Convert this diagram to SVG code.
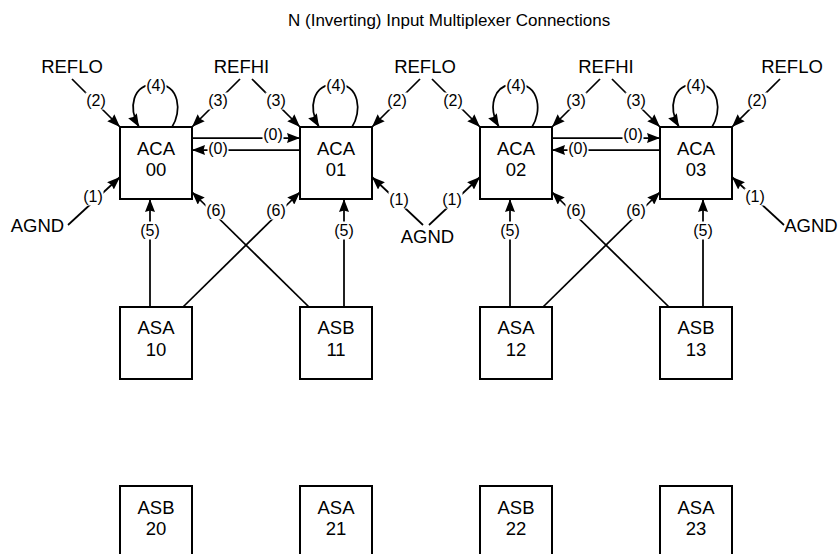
<svg xmlns="http://www.w3.org/2000/svg" width="840" height="554" viewBox="0 0 840 554">
<style>
.box{fill:#fff;stroke:#000;stroke-width:2}
.ln{fill:none;stroke:#000;stroke-width:1.75}
.arr{marker-end:url(#ah)}
text{font-family:"Liberation Sans",Arial,sans-serif;fill:#000}
.t{font-size:18.5px;text-anchor:middle}
.lb{font-size:16px;text-anchor:middle}
.bg{fill:#fff}
.title{font-size:17px}
</style>
<defs>
<marker id="ah" viewBox="0 0 13 10" refX="13" refY="5" markerWidth="13" markerHeight="10" markerUnits="userSpaceOnUse" orient="auto">
<path d="M0,0 L13,5 L0,10 L1.5,5 Z" fill="#000"/>
</marker>
</defs>
<rect width="840" height="554" fill="#fff"/>
<text class="title" x="288" y="26">N (Inverting) Input Multiplexer Connections</text>

<g id="connectors">
<!-- ACA00 -->
<line class="ln arr" x1="72" y1="79" x2="120" y2="127"/>
<line class="ln arr" x1="240" y1="79" x2="192" y2="127"/>
<path class="ln arr" d="M172,127 C182,112 180,84 156,84 C132,84 128,108 139,127"/>
<line class="ln arr" x1="192" y1="138" x2="300" y2="138"/>
<line class="ln arr" x1="300" y1="150" x2="192" y2="150"/>
<line class="ln arr" x1="68" y1="225" x2="120" y2="177"/>
<line class="ln arr" x1="150" y1="307" x2="150" y2="199"/>
<line class="ln arr" x1="309" y1="307" x2="192" y2="192"/>
<!-- ACA01 -->
<path class="ln arr" d="M352,127 C362,112 360,84 336,84 C312,84 308,108 319,127"/>
<line class="ln arr" x1="252" y1="79" x2="300" y2="127"/>
<line class="ln arr" x1="420" y1="79" x2="372" y2="127"/>
<line class="ln arr" x1="423" y1="225" x2="372" y2="177"/>
<line class="ln arr" x1="344" y1="307" x2="344" y2="199"/>
<line class="ln arr" x1="183" y1="307" x2="300" y2="192"/>
<!-- ACA02 -->
<path class="ln arr" d="M532,127 C542,112 540,84 516,84 C492,84 488,108 499,127"/>
<line class="ln arr" x1="432" y1="79" x2="480" y2="127"/>
<line class="ln arr" x1="600" y1="79" x2="552" y2="127"/>
<line class="ln arr" x1="429" y1="225" x2="480" y2="177"/>
<line class="ln arr" x1="552" y1="138" x2="660" y2="138"/>
<line class="ln arr" x1="660" y1="150" x2="552" y2="150"/>
<line class="ln arr" x1="510" y1="307" x2="510" y2="199"/>
<line class="ln arr" x1="669" y1="307" x2="552" y2="192"/>
<!-- ACA03 -->
<path class="ln arr" d="M712,127 C722,112 720,84 696,84 C672,84 668,108 679,127"/>
<line class="ln arr" x1="612" y1="79" x2="660" y2="127"/>
<line class="ln arr" x1="780" y1="79" x2="732" y2="127"/>
<line class="ln arr" x1="784" y1="225" x2="732" y2="177"/>
<line class="ln arr" x1="703" y1="307" x2="703" y2="199"/>
<line class="ln arr" x1="543" y1="307" x2="660" y2="192"/>

<!-- labels -->
<g>
<rect class="bg" x="85.5" y="92.5" width="21" height="17"/><text class="lb" x="96" y="105.5">(2)</text>
<rect class="bg" x="207.5" y="92.5" width="21" height="17"/><text class="lb" x="218" y="105.5">(3)</text>
<rect class="bg" x="145.5" y="77.5" width="21" height="17"/><text class="lb" x="156" y="90.5">(4)</text>
<rect class="bg" x="262.5" y="126.5" width="21" height="17"/><text class="lb" x="273" y="139.5">(0)</text>
<rect class="bg" x="207.5" y="141" width="21" height="16"/><text class="lb" x="218" y="153.5">(0)</text>
<rect class="bg" x="82.5" y="188.5" width="21" height="17"/><text class="lb" x="93" y="201.5">(1)</text>
<rect class="bg" x="139.5" y="221.5" width="21" height="18"/><text class="lb" x="150" y="235.5">(5)</text>
<rect class="bg" x="205.5" y="202.5" width="21" height="17"/><text class="lb" x="216" y="215.5">(6)</text>

<rect class="bg" x="325.5" y="77.5" width="21" height="17"/><text class="lb" x="336" y="90.5">(4)</text>
<rect class="bg" x="265.5" y="92.5" width="21" height="17"/><text class="lb" x="276" y="105.5">(3)</text>
<rect class="bg" x="386.5" y="92.5" width="21" height="17"/><text class="lb" x="397" y="105.5">(2)</text>
<rect class="bg" x="388.5" y="191.5" width="21" height="17"/><text class="lb" x="399" y="204.5">(1)</text>
<rect class="bg" x="333.5" y="221.5" width="21" height="18"/><text class="lb" x="344" y="235.5">(5)</text>
<rect class="bg" x="265.5" y="202.5" width="21" height="17"/><text class="lb" x="276" y="215.5">(6)</text>

<rect class="bg" x="505.5" y="77.5" width="21" height="17"/><text class="lb" x="516" y="90.5">(4)</text>
<rect class="bg" x="442.5" y="92.5" width="21" height="17"/><text class="lb" x="453" y="105.5">(2)</text>
<rect class="bg" x="565.5" y="92.5" width="21" height="17"/><text class="lb" x="576" y="105.5">(3)</text>
<rect class="bg" x="441.5" y="191.5" width="21" height="17"/><text class="lb" x="452" y="204.5">(1)</text>
<rect class="bg" x="622.5" y="126.5" width="21" height="17"/><text class="lb" x="633" y="139.5">(0)</text>
<rect class="bg" x="567.5" y="141" width="21" height="16"/><text class="lb" x="578" y="153.5">(0)</text>
<rect class="bg" x="499.5" y="221.5" width="21" height="18"/><text class="lb" x="510" y="235.5">(5)</text>
<rect class="bg" x="565.5" y="202.5" width="21" height="17"/><text class="lb" x="576" y="215.5">(6)</text>

<rect class="bg" x="685.5" y="77.5" width="21" height="17"/><text class="lb" x="696" y="90.5">(4)</text>
<rect class="bg" x="625.5" y="92.5" width="21" height="17"/><text class="lb" x="636" y="105.5">(3)</text>
<rect class="bg" x="746.5" y="92.5" width="21" height="17"/><text class="lb" x="757" y="105.5">(2)</text>
<rect class="bg" x="744.5" y="188.5" width="21" height="17"/><text class="lb" x="755" y="201.5">(1)</text>
<rect class="bg" x="692.5" y="221.5" width="21" height="18"/><text class="lb" x="703" y="235.5">(5)</text>
<rect class="bg" x="625.5" y="202.5" width="21" height="17"/><text class="lb" x="636" y="215.5">(6)</text>
</g>
</g>

<g id="REFLO_1"><text class="t" x="72" y="72.5">REFLO</text></g>
<g id="REFHI_1"><text class="t" x="241.5" y="72.5">REFHI</text></g>
<g id="REFLO_2"><text class="t" x="425" y="72.5">REFLO</text></g>
<g id="REFHI_2"><text class="t" x="606" y="72.5">REFHI</text></g>
<g id="REFLO_3"><text class="t" x="792" y="72.5">REFLO</text></g>
<g id="AGND_1"><text class="t" x="37.5" y="231.5">AGND</text></g>
<g id="AGND_2"><text class="t" x="427.5" y="243">AGND</text></g>
<g id="AGND_3"><text class="t" x="811" y="231.5">AGND</text></g>

<g id="ACA00"><rect class="box" x="120" y="127" width="72" height="72"/><text class="t" x="156" y="155">ACA</text><text class="t" x="156" y="176">00</text></g>
<g id="ACA01"><rect class="box" x="300" y="127" width="72" height="72"/><text class="t" x="336" y="155">ACA</text><text class="t" x="336" y="176">01</text></g>
<g id="ACA02"><rect class="box" x="480" y="127" width="72" height="72"/><text class="t" x="516" y="155">ACA</text><text class="t" x="516" y="176">02</text></g>
<g id="ACA03"><rect class="box" x="660" y="127" width="72" height="72"/><text class="t" x="696" y="155">ACA</text><text class="t" x="696" y="176">03</text></g>

<g id="ASA10"><rect class="box" x="120" y="307" width="72" height="72"/><text class="t" x="156" y="334">ASA</text><text class="t" x="156" y="355.5">10</text></g>
<g id="ASB11"><rect class="box" x="300" y="307" width="72" height="72"/><text class="t" x="336" y="334">ASB</text><text class="t" x="336" y="355.5">11</text></g>
<g id="ASA12"><rect class="box" x="480" y="307" width="72" height="72"/><text class="t" x="516" y="334">ASA</text><text class="t" x="516" y="355.5">12</text></g>
<g id="ASB13"><rect class="box" x="660" y="307" width="72" height="72"/><text class="t" x="696" y="334">ASB</text><text class="t" x="696" y="355.5">13</text></g>

<g id="ASB20"><rect class="box" x="120" y="486" width="72" height="72"/><text class="t" x="156" y="513.5">ASB</text><text class="t" x="156" y="535">20</text></g>
<g id="ASA21"><rect class="box" x="300" y="486" width="72" height="72"/><text class="t" x="336" y="513.5">ASA</text><text class="t" x="336" y="535">21</text></g>
<g id="ASB22"><rect class="box" x="480" y="486" width="72" height="72"/><text class="t" x="516" y="513.5">ASB</text><text class="t" x="516" y="535">22</text></g>
<g id="ASA23"><rect class="box" x="660" y="486" width="72" height="72"/><text class="t" x="696" y="513.5">ASA</text><text class="t" x="696" y="535">23</text></g>
</svg>
